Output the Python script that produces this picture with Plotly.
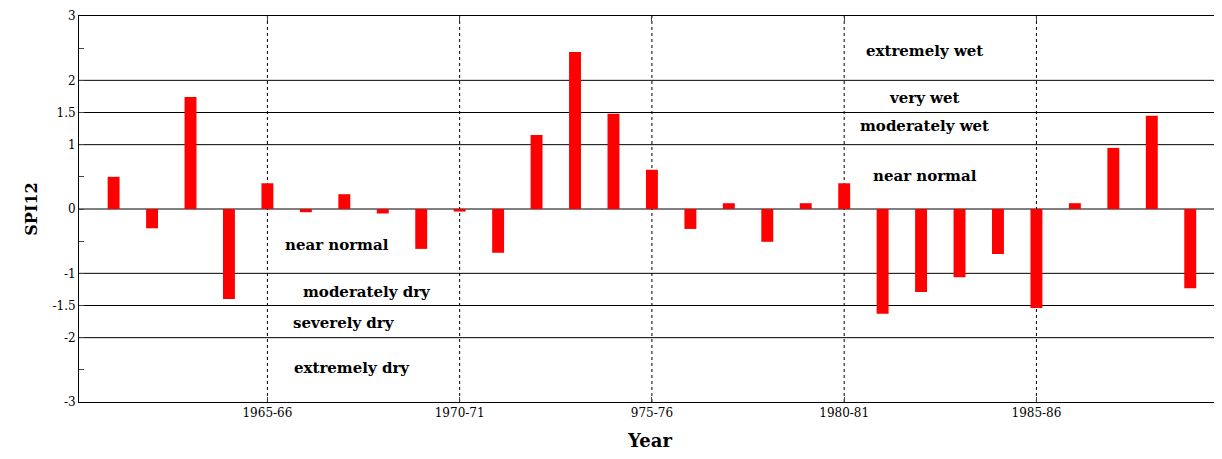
import plotly.graph_objects as go

years = list(range(1961, 1990))
spi12 = [0.50, -0.30, 1.74, -1.40, 0.40, -0.05, 0.23, -0.07, -0.62, -0.04,
         -0.68, 1.15, 2.44, 1.48, 0.61, -0.31, 0.09, -0.51, 0.09, 0.40,
         -1.63, -1.29, -1.06, -0.70, -1.54, 0.09, 0.95, 1.45, -1.23]

xtick_vals = [1965, 1970, 1975, 1980, 1985]
xtick_text = ["1965-66", "1970-71", "975-76", "1980-81", "1985-86"]
ytick_vals = [-3, -2.5, -2, -1.5, -1, -0.5, 0, 0.5, 1, 1.5, 2, 2.5, 3]
ytick_text = ["-3", "", "-2", "-1.5", "-1", "", "0", "", "1", "1.5", "2", "", "3"]
class_lines = [-2, -1.5, -1, 0, 1, 1.5, 2]

labels = [
    (1966.8, -0.56, "near normal"),
    (1967.6, -1.29, "moderately dry"),
    (1967.0, -1.77, "severely dry"),
    (1967.2, -2.47, "extremely dry"),
    (1982.1, 2.46, "extremely wet"),
    (1982.1, 1.73, "very wet"),
    (1982.1, 1.29, "moderately wet"),
    (1982.1, 0.51, "near normal"),
]

fig = go.Figure(go.Bar(x=years, y=spi12, width=0.31, marker_color="#ff0000",
                       marker_line_width=0))

shapes = []
for v in class_lines:
    shapes.append(dict(type="line", xref="paper", x0=0, x1=1, y0=v, y1=v,
                       line=dict(color="black", width=1), layer="below"))
for v in xtick_vals:
    shapes.append(dict(type="line", x0=v, x1=v, yref="paper", y0=0, y1=1,
                       line=dict(color="black", width=1, dash="dot"), layer="below"))
fig.update_layout(shapes=shapes)

for x, y, t in labels:
    fig.add_annotation(x=x, y=y, text="<b>" + t + "</b>", showarrow=False,
                       font=dict(family="DejaVu Serif", size=15, color="black"),
                       bgcolor="white")

fig.update_layout(
    width=1222, height=459, plot_bgcolor="white", paper_bgcolor="white",
    margin=dict(l=71, r=9, t=8, b=65), showlegend=False,
    font=dict(family="DejaVu Serif", color="black", size=12),
    xaxis=dict(range=[1960.1, 1989.8], tickvals=xtick_vals, ticktext=xtick_text,
               ticks="inside", mirror="ticks", showline=True, linecolor="black",
               showgrid=False, tickfont=dict(size=12), zeroline=False, automargin=False,
               title=dict(text="<b>Year</b>", font=dict(size=18), standoff=14)),
    yaxis=dict(range=[-3, 3], tickvals=ytick_vals, ticktext=ytick_text,
               ticks="inside", mirror="ticks", showline=True, linecolor="black",
               showgrid=False, zeroline=False, automargin=False,
               title=dict(text="<b>SPI12</b>", font=dict(size=16), standoff=10)),
)

fig.write_html("out.html")
